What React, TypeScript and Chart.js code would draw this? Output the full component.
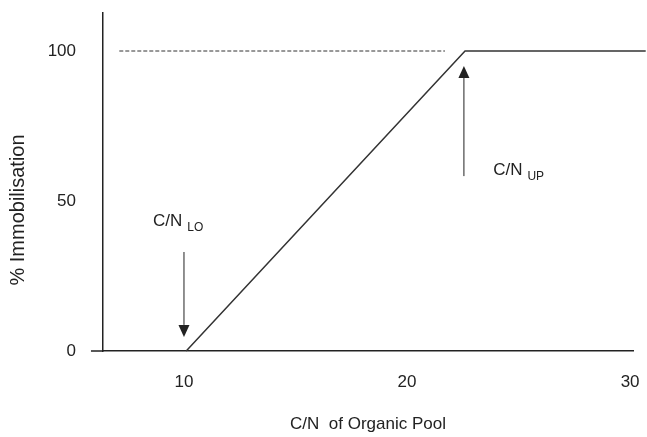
import React, { useEffect, useRef } from "react";
import { Chart, registerables } from "chart.js";

Chart.register(...registerables);

// ---- data ----
const curveX = [10.1, 22.6, 30.7];
const curveY = [0, 100, 100];
const dashX = [7.1, 21.7];
const dashY = [100, 100];
const xTicks = [10, 20, 30];
const yTicks = [0, 50, 100];
const xTitle = "C/N  of Organic Pool";
const yTitle = "% Immobilisation";
// threshold annotations (data coordinates)
const arrowX = [10, 22.55];
const arrowFrom = [33, 58.3];
const arrowTo = [4.7, 95];
const labelX = [8.61, 23.86];
const labelY = [43.3, 60.3];
const labelMain = ["C/N", "C/N"];
const labelSub = ["LO", "UP"];

const FONT = '"Liberation Sans", Arial, Helvetica, sans-serif';
const INK = "#222";

const annotationPlugin = {
  id: "annotations",
  afterDraw(chart: any) {
    const { ctx, chartArea } = chart;
    const xs = chart.scales.x;
    const ys = chart.scales.y;
    ctx.save();
    // axis stub extending left of the y axis
    ctx.strokeStyle = INK;
    ctx.lineWidth = 1.5;
    ctx.beginPath();
    ctx.moveTo(xs.getPixelForValue(5.83), chartArea.bottom);
    ctx.lineTo(chartArea.left, chartArea.bottom);
    ctx.stroke();

    // arrows
    for (let i = 0; i < arrowX.length; i++) {
      const px = xs.getPixelForValue(arrowX[i]);
      const y0 = ys.getPixelForValue(arrowFrom[i]);
      const y1 = ys.getPixelForValue(arrowTo[i]);
      const dir = y1 > y0 ? 1 : -1;
      const headLen = 12;
      const headHalf = 5.5;
      ctx.lineWidth = 1;
      ctx.beginPath();
      ctx.moveTo(px, y0);
      ctx.lineTo(px, y1 - dir * headLen);
      ctx.stroke();
      ctx.fillStyle = INK;
      ctx.beginPath();
      ctx.moveTo(px, y1);
      ctx.lineTo(px - headHalf, y1 - dir * headLen);
      ctx.lineTo(px + headHalf, y1 - dir * headLen);
      ctx.closePath();
      ctx.fill();
    }

    // labels with subscripts
    ctx.fillStyle = INK;
    ctx.textBaseline = "middle";
    ctx.textAlign = "left";
    for (let i = 0; i < labelMain.length; i++) {
      const px = xs.getPixelForValue(labelX[i]);
      const py = ys.getPixelForValue(labelY[i]);
      ctx.font = `17px ${FONT}`;
      ctx.fillText(labelMain[i], px, py);
      const w = ctx.measureText(labelMain[i]).width;
      ctx.font = `12px ${FONT}`;
      ctx.fillText(labelSub[i], px + w + 5, py + 7);
    }

    // y-axis title
    ctx.font = `20px ${FONT}`;
    ctx.textAlign = "center";
    ctx.translate(18, 210);
    ctx.rotate(-Math.PI / 2);
    ctx.fillText(yTitle, 0, 0);
    ctx.restore();
  },
};

export default function App() {
  const ref = useRef<HTMLCanvasElement | null>(null);

  useEffect(() => {
    if (!ref.current) return;
    const chart = new Chart(ref.current, {
      type: "line",
      data: {
        datasets: [
          {
            data: curveX.map((x, i) => ({ x, y: curveY[i] })),
            borderColor: "#333",
            borderWidth: 1.5,
            pointRadius: 0,
            tension: 0,
            clip: false as any,
          },
          {
            data: dashX.map((x, i) => ({ x, y: dashY[i] })),
            borderColor: "#333",
            borderWidth: 1,
            borderDash: [4, 2],
            pointRadius: 0,
            tension: 0,
          },
        ],
      },
      options: {
        animation: false,
        responsive: false,
        devicePixelRatio: 1,
        layout: { padding: { top: 13, right: 14, left: 0, bottom: 0 } },
        plugins: { legend: { display: false }, tooltip: { enabled: false } },
        scales: {
          x: {
            type: "linear",
            min: 6.37,
            max: 30.13,
            afterBuildTicks: (s: any) => {
              s.ticks = xTicks.map((v) => ({ value: v }));
            },
            afterFit: (s: any) => {
              s.height = 86;
              s.paddingLeft = 0;
              s.paddingRight = 0;
              s.paddingTop = 0;
              s.paddingBottom = 0;
            },
            grid: { display: false, drawTicks: false },
            border: { display: true, color: INK, width: 1.5 },
            ticks: { padding: 21, color: INK, font: { family: FONT, size: 17 } },
            title: {
              display: true,
              text: xTitle,
              color: INK,
              padding: { top: 0, bottom: 2 },
              font: { family: FONT, size: 17 },
            },
          },
          y: {
            type: "linear",
            min: 0,
            max: 112.67,
            afterBuildTicks: (s: any) => {
              s.ticks = yTicks.map((v) => ({ value: v }));
            },
            afterFit: (s: any) => {
              s.width = 103;
              s.paddingLeft = 0;
              s.paddingRight = 0;
              s.paddingTop = 0;
              s.paddingBottom = 0;
            },
            grid: { display: false, drawTicks: false },
            border: { display: true, color: INK, width: 1.5 },
            ticks: { padding: 27, color: INK, font: { family: FONT, size: 17 } },
          },
        },
      },
      plugins: [annotationPlugin],
    });
    return () => chart.destroy();
  }, []);

  return (
    <div style={{ position: "fixed", left: 0, top: 0, width: 647, height: 437, background: "#fff" }}>
      <canvas ref={ref} width={647} height={437} style={{ width: 647, height: 437 }} />
    </div>
  );
}
